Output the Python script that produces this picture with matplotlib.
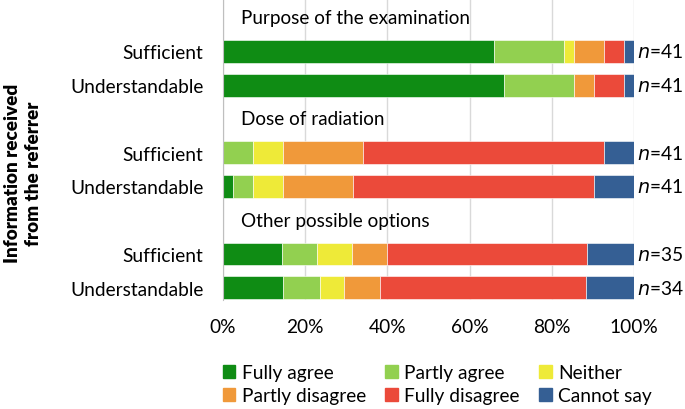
import numpy as np
import matplotlib
matplotlib.use('Agg')
import matplotlib.pyplot as plt
from matplotlib.patches import Patch

# answer counts per row, columns follow the legend order
rows = ['Sufficient', 'Understandable'] * 3
headings = ['Purpose of the examination', 'Dose of radiation', 'Other possible options']
categories = ['Fully agree', 'Partly agree', 'Neither',
              'Partly disagree', 'Fully disagree', 'Cannot say']
fully_agree     = [27, 28, 0, 1, 5, 5]
partly_agree    = [7, 7, 3, 2, 3, 3]
neither         = [1, 0, 3, 3, 3, 2]
partly_disagree = [3, 2, 8, 7, 3, 3]
fully_disagree  = [2, 3, 24, 24, 17, 17]
cannot_say      = [1, 1, 3, 4, 4, 4]
xticks = [0, 20, 40, 60, 80, 100]

colors = ['#0f8c14', '#92d050', '#eeea38', '#f0993a', '#eb4a3a', '#355f94']

plt.rcParams['font.family'] = ['Lato', 'DejaVu Sans']
fs = 13.8

counts = np.array([fully_agree, partly_agree, neither,
                   partly_disagree, fully_disagree, cannot_say], dtype=float)
n = counts.sum(axis=0)
pct = counts / n * 100

# slot layout: heading, bar, bar for each group
ypos = np.array([1, 2, 4, 5, 7, 8])
head_pos = [0, 3, 6]

fig = plt.figure(figsize=(6.85, 4.1), dpi=100)
ax = fig.add_axes([0.3255, 0.266, 0.6, 0.734])

left = np.zeros(len(rows))
for i in range(len(categories)):
    ax.barh(ypos, pct[i], left=left, height=0.68, color=colors[i],
            edgecolor='white', linewidth=0.4, label=categories[i], zorder=3)
    left += pct[i]

for y, nn in zip(ypos, n):
    ax.text(100.8, y, r'$\it{n}$=%d' % nn, va='center', ha='left', fontsize=fs)

for y, h in zip(head_pos, headings):
    ax.text(4.4, y, h, va='center', ha='left', fontsize=13.6)

ax.set_xlim(0, 100)
ax.set_ylim(8.36, -0.55)
ax.set_xticks(xticks)
ax.set_xticklabels(['%d%%' % t for t in xticks], fontsize=fs)
ax.set_yticks(ypos)
ax.set_yticklabels(rows, fontsize=fs)
ax.tick_params(axis='x', length=0, pad=13)
ax.tick_params(axis='y', length=0, pad=14)
ax.grid(axis='x', color='#d9d9d9', linewidth=1, zorder=0)
for s in ['top', 'right', 'bottom']:
    ax.spines[s].set_visible(False)
ax.spines['left'].set_color('#bfbfbf')
ax.spines['left'].set_zorder(4)

fig.text(0.034, 0.576, 'Information received\nfrom the referrer', rotation=90,
         ha='center', va='center', fontsize=13.6, fontweight='heavy',
         linespacing=1.3)

handles = [Patch(color=c) for c in colors]
order = [0, 3, 1, 4, 2, 5]
fig.legend([handles[i] for i in order], [categories[i] for i in order],
           ncol=3, loc='center left', bbox_to_anchor=(0.3, 0.061),
           frameon=False, fontsize=fs, handlelength=0.65, handleheight=0.65,
           handletextpad=0.35, columnspacing=1.0, labelspacing=0.3)

fig.savefig('out.png', dpi=100)
